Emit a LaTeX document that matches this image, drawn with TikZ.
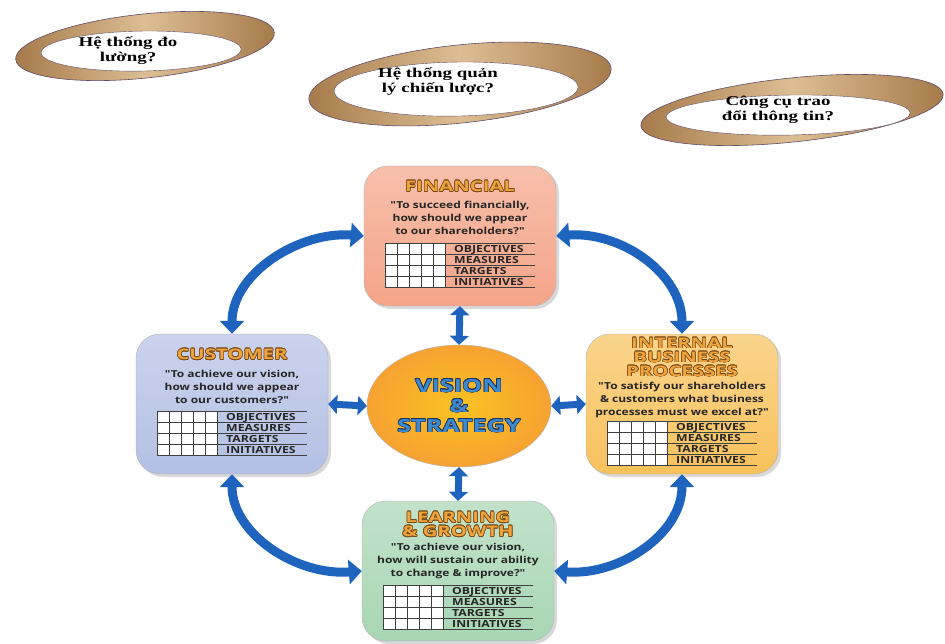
\documentclass[tikz,border=0pt]{standalone}
\usepackage{fontspec}
\usepackage[copies]{contour}
\usetikzlibrary{positioning, arrows.meta, shapes.geometric, shadows, calc}

\setmainfont{Liberation Serif}
\newfontfamily\ringfont{Liberation Serif}[FakeStretch=1.4]
\newfontfamily\cardfont{Open Sans}[FakeStretch=1.25]
\newfontfamily\headfont{Open Sans}[FakeStretch=1.4]

\definecolor{finfill}{HTML}{F4A488}
\definecolor{custfill}{HTML}{B4C0E4}
\definecolor{intfill}{HTML}{F8C25C}
\definecolor{learnfill}{HTML}{A8D6B4}
\definecolor{visfill}{HTML}{F7A232}
\definecolor{arrowblue}{HTML}{1E64BE}
\definecolor{headgold}{HTML}{EFA43C}
\definecolor{headbrown}{HTML}{7A4A18}
\definecolor{visblue}{HTML}{3D8AD0}
\definecolor{visnavy}{HTML}{1C3260}
\definecolor{ringlight}{HTML}{DDBE94}
\definecolor{ringdark}{HTML}{A67A4A}
\definecolor{ringedge}{HTML}{5E4C68}

\contourlength{0.6pt}
\contournumber{12}
\newcommand{\headtext}[1]{\contour{headbrown}{\textcolor{headgold}{#1}}}
\newcommand{\vistext}[1]{\contour{visnavy}{\textcolor{visblue}{#1}}}

% objectives / measures / targets / initiatives table, #1 = top left corner
\newcommand{\scoregrid}[1]{%
  \fill[white] (#1) rectangle ++(60,44);
  \foreach \col in {0,...,5}
    \draw[cellline] ($(#1)+(\col*12,0)$) -- ++(0,44);
  \foreach \row in {0,...,4}
    \draw[cellline] ($(#1)+(0,\row*11)$) -- ++(150,0);
  \foreach \lab [count=\row] in {OBJECTIVES,MEASURES,TARGETS,INITIATIVES}
    \node[gridlabel] (#1-\row) at ($(#1)+(69,\row*11-1.8)$) {\lab};
}

\begin{document}
\begin{tikzpicture}[x=1pt, y=-1pt,
    card/.style = {rectangle, rounded corners=24pt, minimum width=192pt,
                   minimum height=140pt, draw=black!30, thin,
                   drop shadow={shadow xshift=3pt, shadow yshift=-3pt, opacity=0.3}},
    cardtitle/.style = {inner sep=0pt, align=center,
                        font=\headfont\bfseries\fontsize{14.5}{14}\selectfont},
    cardquote/.style = {inner sep=0pt, align=center, text=black!85,
                        font=\cardfont\bfseries\fontsize{9.6}{12.8}\selectfont},
    gridlabel/.style = {anchor=base west, inner sep=0pt, text=black!85,
                        font=\cardfont\bfseries\fontsize{9.8}{10}\selectfont},
    cellline/.style  = {draw=black!75, line width=0.7pt},
    vision/.style    = {ellipse, minimum width=162pt, minimum height=122pt,
                        draw=black!30, inner color=visfill!65!yellow,
                        outer color=visfill, align=center,
                        font=\headfont\bfseries\fontsize{18}{20}\selectfont},
    shortarrow/.style = {arrowblue, line width=7pt,
                         {Triangle[length=9pt,width=19pt]}-{Triangle[length=9pt,width=19pt]}},
    longarrow/.style  = {arrowblue, line width=9pt,
                         {Triangle[length=13pt,width=24pt]}-{Triangle[length=13pt,width=24pt]}},
    ringband/.style = {draw=ringedge, line width=0.6pt, left color=ringdark,
                       right color=ringdark, middle color=ringlight},
    ringhole/.style = {fill=white, draw=ringedge, line width=0.4pt},
    ringtext/.style = {inner sep=0pt, align=center,
                       font=\ringfont\bfseries\fontsize{13.5}{15}\selectfont}
]
\useasboundingbox (0,0) rectangle (945,644);

% rings on top
\foreach \cx/\cy/\rx/\ry in {145/46/130/32, 460/84/152/39, 792/110/152/32} {
  \draw[ringband, rotate around={6:(\cx,\cy)}] (\cx,\cy) ellipse [x radius=\rx, y radius=\ry];
  \draw[ringhole, rotate around={1:(\cx,\cy)}] (\cx-4,\cy+5) ellipse [x radius=\rx-30, y radius=\ry-12];
}
\node[ringtext] (ring1) at (128,51)  {Hệ thống đo\\lường?};
\node[ringtext] (ring2) at (438,82)  {Hệ thống quản\\lý chiến lược?};
\node[ringtext] (ring3) at (778,110) {Công cụ trao\\đổi thông tin?};

% the four perspectives
\node[card, top color=finfill!70!white, bottom color=finfill]       (fin)   at (460,236) {};
\node[card, top color=custfill!70!white, bottom color=custfill]     (cust)  at (232,404) {};
\node[card, top color=intfill!70!white, bottom color=intfill]       (int)   at (682,404) {};
\node[card, top color=learnfill!70!white, bottom color=learnfill]   (learn) at (458,571) {};

% vision in the middle
\node[vision] (vis) at (459,406) {\vistext{VISION}\\\vistext{\&}\\\vistext{STRATEGY}};

% financial
\node[cardtitle, below=15pt of fin.north] (fintitle) {\headtext{FINANCIAL}};
\node[cardquote, below=9pt of fintitle] (finquote)
  {"To succeed financially,\\how should we appear\\to our shareholders?"};
\coordinate (fingrid) at ($(finquote.south -| fin.center)+(-75,8)$);
\scoregrid{fingrid}

% customer
\node[cardtitle, below=15pt of cust.north] (custtitle) {\headtext{CUSTOMER}};
\node[cardquote, below=10pt of custtitle] (custquote)
  {"To achieve our vision,\\how should we appear\\to our customers?"};
\coordinate (custgrid) at ($(custquote.south -| cust.center)+(-75,7)$);
\scoregrid{custgrid}

% internal business processes
\node[cardtitle, below=4pt of int.north] (inttitle)
  {\headtext{INTERNAL}\\\headtext{BUSINESS}\\\headtext{PROCESSES}};
\node[cardquote, below=5pt of inttitle] (intquote)
  {"To satisfy our shareholders\\\& customers what business\\processes must we excel at?"};
\coordinate (intgrid) at ($(intquote.south -| int.center)+(-75,3)$);
\scoregrid{intgrid}

% learning and growth
\node[cardtitle, below=11pt of learn.north] (learntitle)
  {\headtext{LEARNING}\\\headtext{\& GROWTH}};
\node[cardquote, below=6pt of learntitle] (learnquote)
  {"To achieve our vision,\\how will sustain our ability\\to change \& improve?"};
\coordinate (learngrid) at ($(learnquote.south -| learn.center)+(-75,6)$);
\scoregrid{learngrid}

% short arrows to and from the vision
\draw[shortarrow] (fin.south) -- (vis.north);
\draw[shortarrow] (vis.south) -- (learn.north);
\draw[shortarrow] (cust.east) -- (vis.west);
\draw[shortarrow] (vis.east) -- (int.west);

% curved arrows round the outside
\draw[longarrow] (cust.north) .. controls +(0,-60) and +(-65,-5) .. (fin.west);
\draw[longarrow] (fin.east) .. controls +(65,-5) and +(0,-60) .. (int.north);
\draw[longarrow] (cust.south) .. controls +(0,60) and +(-65,5) .. (learn.west);
\draw[longarrow] (int.south) .. controls +(0,60) and +(65,5) .. (learn.east);

\end{tikzpicture}
\end{document}
